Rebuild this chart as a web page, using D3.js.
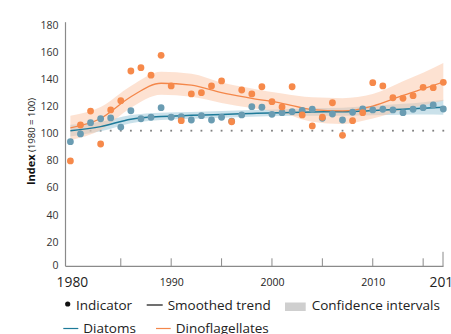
<!DOCTYPE html>
<html>
<head>
<meta charset="utf-8">
<script src="https://cdn.jsdelivr.net/npm/d3@7"></script>
<style>
  html, body { margin: 0; padding: 0; background: #fff; }
  svg { display: block; font-family: "Open Sans", "Noto Sans", sans-serif; }
</style>
</head>
<body>
<svg id="chart" width="451" height="334"></svg>
<script>
// Annual phytoplankton index values (1980 = 100)
const years = d3.range(1980, 2018);
const diatoms = [91.9, 97.6, 105.9, 108.8, 109.4, 102.7, 114.7, 108.8, 109.9, 117.0,
  109.9, 110.3, 107.9, 111.1, 107.9, 109.9, 107.0, 111.6, 117.7, 117.3,
  112.1, 113.3, 114.0, 115.0, 115.8, 109.1, 112.3, 107.9, 113.6, 116.0,
  115.3, 115.8, 115.3, 113.3, 115.8, 117.0, 119.0, 116.0];
const dinoflagellates = [77.7, 104.2, 114.5, 90.2, 115.3, 122.1, 144.0, 146.5, 140.9, 155.6,
  133.0, 107.4, 127.1, 128.0, 133.0, 136.7, 106.6, 130.0, 127.1, 132.4,
  121.4, 117.5, 132.4, 111.6, 103.5, 109.9, 120.6, 96.6, 107.4, 113.3,
  135.4, 133.0, 124.3, 123.9, 125.8, 132.0, 131.7, 135.7];

// Smoothed trends with confidence bounds at knot years
const trendYears = [1980, 1983, 1986, 1989, 1992, 1995, 1998, 2001, 2004, 2007, 2010, 2013, 2015, 2017];
const diatomTrend = [100, 103, 108.5, 110.5, 111.3, 112, 112.7, 113.3, 113.8, 114, 114.8, 115.8, 116.5, 117.3];
const diatomLow   = [95.7, 99.5, 105.5, 107.8, 108.8, 109.5, 110.2, 110.8, 111, 111, 111.3, 111.8, 112, 111.8];
const diatomHigh  = [104.3, 106.5, 111.5, 113.2, 113.8, 114.5, 115.2, 115.8, 116.6, 117, 118.3, 119.8, 121, 122.8];
const dinoTrend = [102, 109, 125, 135, 133.6, 128, 123.9, 120.2, 115.6, 114.6, 118.2, 126, 130.8, 135.9];
const dinoLow   = [93, 100.5, 117, 126.5, 125, 120.5, 116.7, 113, 106.6, 105, 109, 115.5, 118.8, 122];
const dinoHigh  = [111, 117.5, 133, 143.5, 142, 135.5, 131.1, 127.4, 124.6, 124, 127, 136.5, 142.8, 150];

const yTicks = [0, 20, 40, 60, 80, 100, 120, 140, 160, 180];
const xMinorTicks = [1985, 1990, 1995, 2000, 2005, 2010, 2015];
const xLabels = [
  { year: 1980, text: "1980", big: true },
  { year: 1990, text: "1990", big: false },
  { year: 2000, text: "2000", big: false },
  { year: 2010, text: "2010", big: false },
  { year: 2017, text: "2017", big: true }
];
const referenceValue = 100;

const colors = {
  diatom: "#6a9cb2", diatomLine: "#1d7a99", diatomBand: "#9fc9d8",
  dino: "#f6894a", dinoLine: "#f4874a", dinoBand: "#fbc5a6",
  axis: "#8a8a8a", text: "#333"
};

const svg = d3.select("#chart");
const x = d3.scaleLinear().domain([1980, 2017]).range([70.4, 443.3]);
const y = d3.scaleLinear().domain([0, 180]).range([266.3, 22.2]);

// reference dotted line at 100
svg.append("g").selectAll("rect").data(years.slice(1)).join("rect")
  .attr("x", d => x(d) - 0.9).attr("y", y(referenceValue) - 0.9)
  .attr("width", 1.8).attr("height", 1.8).attr("fill", "#808080");

// confidence bands
const band = (lo, hi) => d3.area()
  .x((d, i) => x(trendYears[i])).y0((d, i) => y(lo[i])).y1((d, i) => y(hi[i]))
  .curve(d3.curveMonotoneX)(trendYears);
svg.append("path").attr("d", band(diatomLow, diatomHigh))
  .attr("fill", colors.diatomBand).attr("fill-opacity", 0.55);
svg.append("path").attr("d", band(dinoLow, dinoHigh))
  .attr("fill", colors.dinoBand).attr("fill-opacity", 0.5);

// trend lines
const trend = vals => d3.line()
  .x((d, i) => x(trendYears[i])).y((d, i) => y(vals[i]))
  .curve(d3.curveMonotoneX)(trendYears);
svg.append("path").attr("d", trend(diatomTrend)).attr("fill", "none")
  .attr("stroke", colors.diatomLine).attr("stroke-width", 1.5);
svg.append("path").attr("d", trend(dinoTrend)).attr("fill", "none")
  .attr("stroke", colors.dinoLine).attr("stroke-width", 1.3);

// indicator points
svg.append("g").selectAll("circle").data(years).join("circle")
  .attr("cx", d => x(d)).attr("cy", (d, i) => y(diatoms[i])).attr("r", 3.4)
  .attr("fill", colors.diatom);
svg.append("g").selectAll("circle").data(years).join("circle")
  .attr("cx", d => x(d)).attr("cy", (d, i) => y(dinoflagellates[i])).attr("r", 3.4)
  .attr("fill", colors.dino);

// axes
const axisX0 = 65.5, axisX1 = 443.5;
svg.append("line").attr("x1", axisX0).attr("x2", axisX0)
  .attr("y1", y(180)).attr("y2", y(0)).attr("stroke", colors.axis).attr("stroke-width", 1.2);
svg.append("line").attr("x1", axisX0).attr("x2", axisX1)
  .attr("y1", y(0)).attr("y2", y(0)).attr("stroke", colors.axis).attr("stroke-width", 1.2);
svg.append("g").selectAll("line").data(xMinorTicks).join("line")
  .attr("x1", d => x(d)).attr("x2", d => x(d))
  .attr("y1", y(0)).attr("y2", y(0) - 8)
  .attr("stroke", colors.axis).attr("stroke-width", 1);
svg.append("line").attr("x1", axisX1 - 0.5).attr("x2", axisX1 - 0.5)
  .attr("y1", y(0)).attr("y2", y(0) - 14.5)
  .attr("stroke", colors.axis).attr("stroke-width", 1);

svg.append("g").selectAll("text").data(yTicks).join("text")
  .attr("x", 58.5).attr("y", d => d === 0 ? y(d) + 2.7 : y(d) + 6.5)
  .attr("text-anchor", "end").attr("font-size", 10.5).attr("fill", colors.text)
  .text(d => d);

svg.append("g").selectAll("text").data(xLabels).join("text")
  .attr("x", d => x(d.year) + (d.big ? 2 : 0.5))
  .attr("y", d => d.big ? 287.3 : 286)
  .attr("text-anchor", "middle")
  .attr("font-size", d => d.big ? 13.8 : 10.5).attr("fill", "#222")
  .text(d => d.text);

// y axis title
const title = svg.append("text")
  .attr("transform", "translate(35,141.5) rotate(-90)")
  .attr("text-anchor", "middle").attr("fill", "#111");
title.append("tspan").attr("font-weight", "bold").attr("font-size", 11).text("Index");
title.append("tspan").attr("font-size", 9.5).text(" (1980 = 100)");

// legend
const lg = svg.append("g").attr("fill", "#222").attr("font-size", 13.5);
const row1 = 305, row2 = 328.5;
lg.append("circle").attr("cx", 67.7).attr("cy", row1 - 1).attr("r", 2.6).attr("fill", "#111");
lg.append("text").attr("x", 76).attr("y", row1 + 4.8).text("Indicator");
lg.append("line").attr("x1", 146.7).attr("x2", 162.7).attr("y1", row1).attr("y2", row1)
  .attr("stroke", "#111").attr("stroke-width", 1.2);
lg.append("text").attr("x", 167.7).attr("y", row1 + 4.8).text("Smoothed trend");
lg.append("rect").attr("x", 285).attr("y", row1 - 2.5).attr("width", 20.7).attr("height", 8.5)
  .attr("fill", "#cfcfcf");
lg.append("text").attr("x", 311.7).attr("y", row1 + 4.8).text("Confidence intervals");
lg.append("line").attr("x1", 63.3).attr("x2", 78.3).attr("y1", row2).attr("y2", row2)
  .attr("stroke", colors.diatomLine).attr("stroke-width", 1.2);
lg.append("text").attr("x", 83.3).attr("y", row2 + 4.8).text("Diatoms");
lg.append("line").attr("x1", 156).attr("x2", 170.7).attr("y1", row2).attr("y2", row2)
  .attr("stroke", colors.dinoLine).attr("stroke-width", 1.2);
lg.append("text").attr("x", 175.7).attr("y", row2 + 4.8).text("Dinoflagellates");
</script>
</body>
</html>
